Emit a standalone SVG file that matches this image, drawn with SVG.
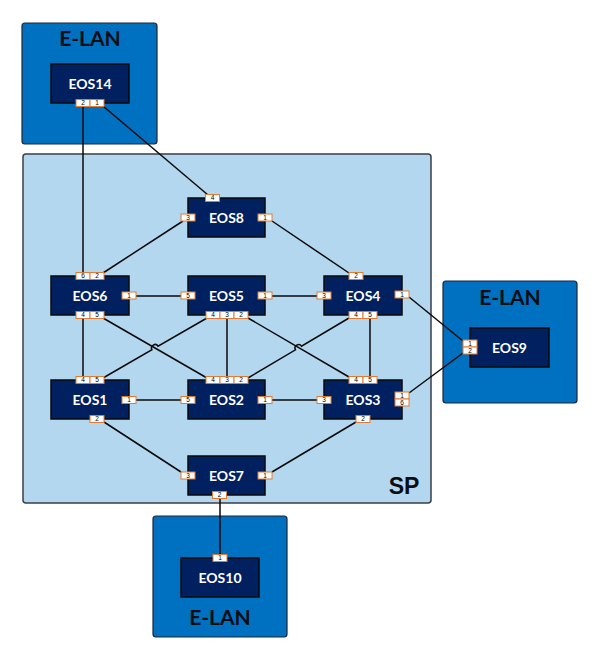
<svg xmlns="http://www.w3.org/2000/svg" width="600" height="661" viewBox="0 0 600 661">
<style>
.elan{fill:#0070C0;stroke:#1B2638;stroke-width:1.2}
.sp{fill:#B4D7F0;stroke:#3A3F47;stroke-width:1.5}
.big{font-family:Lato,"Open Sans",sans-serif;font-weight:bold;font-size:21px;fill:#0D0D14;text-anchor:middle}
.spl{font-family:"Liberation Sans",Arial,sans-serif;font-weight:bold;font-size:23px;fill:#0D0D14;text-anchor:middle}
.node{fill:#002060;stroke:#0A0A0A;stroke-width:1.5}
.nl{font-family:Lato,"Open Sans",sans-serif;font-weight:bold;font-size:14px;fill:#FFFFFF;text-anchor:middle}
.port{fill:#FFFFFF;stroke:#E07A35;stroke-width:1}
.pl{font-family:"Liberation Sans",Arial,sans-serif;font-size:6.5px;fill:#000;text-anchor:middle}
.ln{fill:none;stroke:#0A0A0A;stroke-width:1.5}
</style>
<rect class="sp" x="23" y="154" width="408" height="349" rx="3"/>
<text class="spl" x="404" y="494">SP</text>
<g id="elan-top"><rect class="elan" x="22" y="23" width="135" height="121" rx="3"/><text class="big" x="90" y="46">E-LAN</text></g>
<g id="elan-right"><rect class="elan" x="443" y="281" width="134" height="122" rx="3"/><text class="big" x="510" y="305">E-LAN</text></g>
<g id="elan-bottom"><rect class="elan" x="153" y="516" width="134" height="121" rx="3"/><text class="big" x="220" y="625">E-LAN</text></g>
<g id="connectors">
<path class="ln" d="M83 106V273"/>
<path class="ln" d="M103 106L208 195"/>
<path class="ln" d="M183 221L103 273"/>
<path class="ln" d="M272 221L349 273"/>
<path class="ln" d="M136 296H181"/>
<path class="ln" d="M272 296H318"/>
<path class="ln" d="M409 297L463 341"/>
<path class="ln" d="M409 393L463 353"/>
<path class="ln" d="M83 318V377"/>
<path class="ln" d="M103 318L207 378"/>
<path class="ln" d="M207 318L158.03 346.25A3.5 3.5 0 0 0 151.97 349.75L103 378"/>
<path class="ln" d="M227 318V377"/>
<path class="ln" d="M248 318L349 377"/>
<path class="ln" d="M349 318L301.5 346.2A3.5 3.5 0 0 0 295.5 349.8L248 378"/>
<path class="ln" d="M370 318V377"/>
<path class="ln" d="M136 400H181"/>
<path class="ln" d="M272 400H318"/>
<path class="ln" d="M104 422L181 472"/>
<path class="ln" d="M272 472L356 422"/>
<path class="ln" d="M220 499V555"/>
</g>
<g id="EOS14"><rect class="node" x="51" y="64" width="78" height="39"/><text class="nl" x="90" y="88.5">EOS14</text>
<rect class="port" x="76" y="99.5" width="14" height="7"/><text class="pl" x="83" y="105.2">2</text>
<rect class="port" x="90" y="99.5" width="14" height="7"/><text class="pl" x="97" y="105.2">1</text></g>
<g id="EOS8"><rect class="node" x="188" y="198" width="77" height="39"/><text class="nl" x="226.5" y="222.5">EOS8</text>
<rect class="port" x="205.5" y="194.5" width="14" height="7"/><text class="pl" x="212.5" y="200.2">4</text>
<rect class="port" x="181" y="214" width="14" height="7"/><text class="pl" x="188" y="219.7">3</text>
<rect class="port" x="258" y="214" width="14" height="7"/><text class="pl" x="265" y="219.7">1</text></g>
<g id="EOS6"><rect class="node" x="51" y="276" width="78" height="39"/><text class="nl" x="90" y="300.5">EOS6</text>
<rect class="port" x="76" y="272.5" width="14" height="7"/><text class="pl" x="83" y="278.2">6</text>
<rect class="port" x="90" y="272.5" width="14" height="7"/><text class="pl" x="97" y="278.2">2</text>
<rect class="port" x="76" y="311.5" width="14" height="7"/><text class="pl" x="83" y="317.2">4</text>
<rect class="port" x="90" y="311.5" width="14" height="7"/><text class="pl" x="97" y="317.2">5</text>
<rect class="port" x="122" y="292" width="14" height="7"/><text class="pl" x="129" y="297.7">1</text></g>
<g id="EOS5"><rect class="node" x="188" y="276" width="77" height="39"/><text class="nl" x="226.5" y="300.5">EOS5</text>
<rect class="port" x="181" y="292" width="14" height="7"/><text class="pl" x="188" y="297.7">5</text>
<rect class="port" x="258" y="292" width="14" height="7"/><text class="pl" x="265" y="297.7">1</text>
<rect class="port" x="206" y="311.5" width="14" height="7"/><text class="pl" x="213" y="317.2">4</text>
<rect class="port" x="220" y="311.5" width="14" height="7"/><text class="pl" x="227" y="317.2">3</text>
<rect class="port" x="234" y="311.5" width="14" height="7"/><text class="pl" x="241" y="317.2">2</text></g>
<g id="EOS4"><rect class="node" x="324" y="276" width="78" height="39"/><text class="nl" x="363" y="300.5">EOS4</text>
<rect class="port" x="349" y="272.5" width="14" height="7"/><text class="pl" x="356" y="278.2">2</text>
<rect class="port" x="317" y="292" width="14" height="7"/><text class="pl" x="324" y="297.7">3</text>
<rect class="port" x="395" y="291" width="14" height="7"/><text class="pl" x="402" y="296.7">1</text>
<rect class="port" x="349" y="311.5" width="14" height="7"/><text class="pl" x="356" y="317.2">4</text>
<rect class="port" x="363" y="311.5" width="14" height="7"/><text class="pl" x="370" y="317.2">5</text></g>
<g id="EOS9"><rect class="node" x="470" y="328" width="79" height="39"/><text class="nl" x="509.5" y="352.5">EOS9</text>
<rect class="port" x="463" y="340" width="14" height="7"/><text class="pl" x="470" y="345.7">1</text>
<rect class="port" x="463" y="347" width="14" height="7"/><text class="pl" x="470" y="352.7">2</text></g>
<g id="EOS1"><rect class="node" x="51" y="380" width="78" height="39"/><text class="nl" x="90" y="404.5">EOS1</text>
<rect class="port" x="76" y="376.5" width="14" height="7"/><text class="pl" x="83" y="382.2">4</text>
<rect class="port" x="90" y="376.5" width="14" height="7"/><text class="pl" x="97" y="382.2">5</text>
<rect class="port" x="122" y="396.5" width="14" height="7"/><text class="pl" x="129" y="402.2">1</text>
<rect class="port" x="90" y="415.5" width="14" height="7"/><text class="pl" x="97" y="421.2">2</text></g>
<g id="EOS2"><rect class="node" x="188" y="380" width="77" height="39"/><text class="nl" x="226.5" y="404.5">EOS2</text>
<rect class="port" x="206" y="376.5" width="14" height="7"/><text class="pl" x="213" y="382.2">4</text>
<rect class="port" x="220" y="376.5" width="14" height="7"/><text class="pl" x="227" y="382.2">3</text>
<rect class="port" x="234" y="376.5" width="14" height="7"/><text class="pl" x="241" y="382.2">2</text>
<rect class="port" x="181" y="396.5" width="14" height="7"/><text class="pl" x="188" y="402.2">5</text>
<rect class="port" x="258" y="396.5" width="14" height="7"/><text class="pl" x="265" y="402.2">1</text></g>
<g id="EOS3"><rect class="node" x="324" y="380" width="78" height="39"/><text class="nl" x="363" y="404.5">EOS3</text>
<rect class="port" x="349" y="376.5" width="14" height="7"/><text class="pl" x="356" y="382.2">4</text>
<rect class="port" x="363" y="376.5" width="14" height="7"/><text class="pl" x="370" y="382.2">5</text>
<rect class="port" x="317" y="396.5" width="14" height="7"/><text class="pl" x="324" y="402.2">3</text>
<rect class="port" x="395" y="392" width="14" height="7"/><text class="pl" x="402" y="397.7">1</text>
<rect class="port" x="395" y="399" width="14" height="7"/><text class="pl" x="402" y="404.7">6</text>
<rect class="port" x="356" y="415.5" width="14" height="7"/><text class="pl" x="363" y="421.2">2</text></g>
<g id="EOS7"><rect class="node" x="188" y="456" width="77" height="39"/><text class="nl" x="226.5" y="480.5">EOS7</text>
<rect class="port" x="181" y="472" width="14" height="7"/><text class="pl" x="188" y="477.7">3</text>
<rect class="port" x="258" y="472" width="14" height="7"/><text class="pl" x="265" y="477.7">1</text>
<rect class="port" x="212.5" y="491.5" width="14" height="7"/><text class="pl" x="219.5" y="497.2">2</text></g>
<g id="EOS10"><rect class="node" x="181" y="558" width="78" height="39"/><text class="nl" x="220" y="582.5">EOS10</text>
<rect class="port" x="213" y="554.5" width="14" height="7"/><text class="pl" x="220" y="560.2">1</text></g>
</svg>
